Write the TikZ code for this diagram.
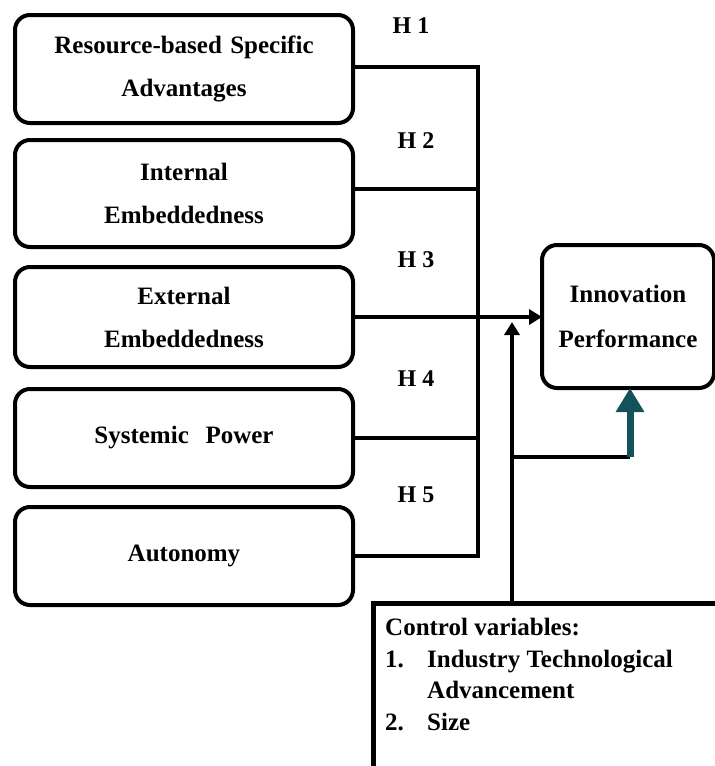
\documentclass[tikz,border=0pt]{standalone}
\usepackage{fontspec}
\setmainfont{Liberation Serif}
\usepackage{xcolor}
\usetikzlibrary{arrows.meta,positioning,calc}
\definecolor{tealdark}{RGB}{18,82,88}
\tikzset{
  factor/.style={draw, rounded corners=15pt, line width=4pt, outer sep=0pt, inner sep=0pt, align=center, text width=330pt, minimum width=338pt, font=\fontsize{25}{43}\selectfont\bfseries},
  outcome/.style={draw, rounded corners=15pt, line width=4pt, outer sep=0pt, inner sep=0pt, align=center, text width=168pt, minimum width=172pt, minimum height=143pt, font=\fontsize{25}{45}\selectfont\bfseries},
  ctrlbox/.style={draw, line width=5pt, outer sep=0pt, minimum width=380pt, minimum height=200pt},
  ctrltext/.style={inner sep=0pt, align=left, font=\fontsize{25}{31.7}\selectfont\bfseries},
  hyp/.style={inner sep=0pt, font=\fontsize{24}{28}\selectfont\bfseries},
  line/.style={line width=4pt},
  arrow/.style={-{Triangle[length=13pt,width=15pt]}, line width=4pt},
  tealarrow/.style={-{Triangle[length=24pt,width=27pt]}, line width=7pt, draw=tealdark}
}
\begin{document}
\begin{tikzpicture}[x=1pt, y=1pt]
  \clip (0,0) rectangle (715,-766);
  % determinants
  \node[factor, minimum height=108pt, anchor=north west] (rbsa) at (15,-15) {Resource-based Specific\\Advantages};
  \node[factor, minimum height=107pt, below=17pt of rbsa] (intemb) {Internal\\Embeddedness};
  \node[factor, minimum height=100pt, below=20pt of intemb] (extemb) {External\\Embeddedness};
  \node[factor, minimum height=98pt, below=22pt of extemb] (syspow) {Systemic\ \ Power};
  \node[factor, minimum height=98pt, below=20pt of syspow] (auton) {Autonomy};
  % outcome and controls
  \node[outcome, anchor=north west] (innov) at (542,-245) {Innovation\\Performance};
  \node[ctrlbox, anchor=north west] (ctrl) at (373,-603) {};
  \node[ctrltext, anchor=north west] (ctrltxt) at (385,-618) {Control variables:\\\makebox[42pt][l]{1.}Industry Technological\\\hspace*{42pt}Advancement\\\makebox[42pt][l]{2.}Size};
  % hypotheses
  \node[hyp, anchor=base] (h1) at (411,-33) {H 1};
  \node[hyp, anchor=base] (h2) at (416,-148) {H 2};
  \node[hyp, anchor=base] (h3) at (416,-267) {H 3};
  \node[hyp, anchor=base] (h4) at (416,-386) {H 4};
  \node[hyp, anchor=base] (h5) at (416,-502) {H 5};
  % bus
  \coordinate (busx) at (478,0);
  \coordinate (ctrlx) at (512,0);
  \coordinate (tealx) at (630,0);
  \draw[line] ([yshift=2pt]rbsa.east) -- ([yshift=2pt]rbsa.east -| busx) -- (auton.east -| busx) -- (auton.east);
  \draw[line] ([yshift=5pt]intemb.east) -- ([yshift=5pt]intemb.east -| busx);
  \draw[line] (syspow.east) -- (syspow.east -| busx);
  \draw[arrow] (extemb.east) -- (extemb.east -| innov.west);
  % control path
  \draw[arrow] (ctrl.north -| ctrlx) -- ([yshift=-5pt]extemb.east -| ctrlx);
  \coordinate (branch) at (512,-457);
  \draw[line] (branch) -- (branch -| tealx);
  \draw[tealarrow] (branch -| tealx) -- (innov.south -| tealx);
\end{tikzpicture}
\end{document}
